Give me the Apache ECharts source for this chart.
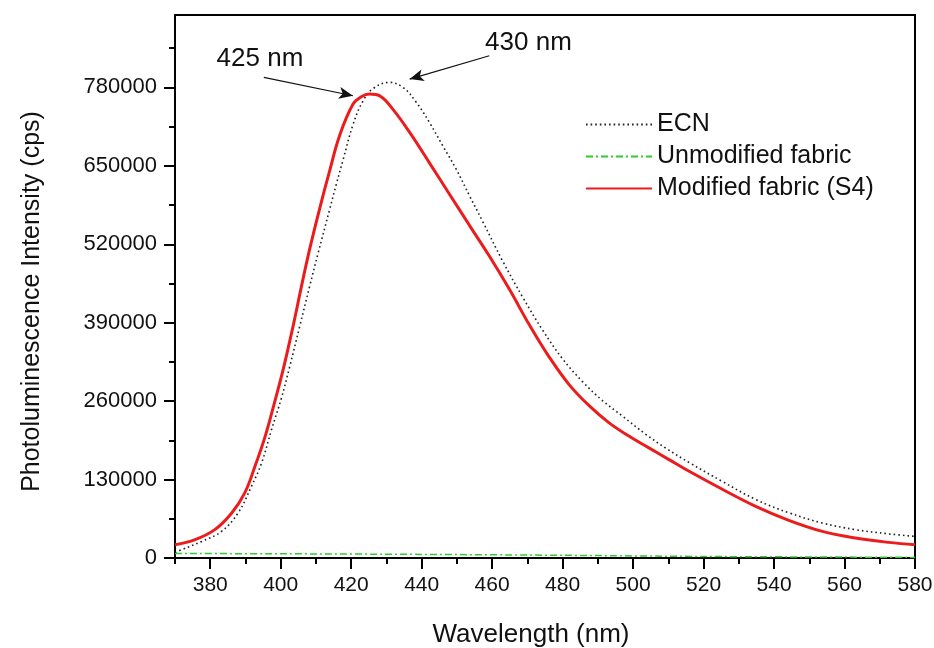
<!DOCTYPE html>
<html>
<head>
<meta charset="utf-8">
<script src="https://cdn.jsdelivr.net/npm/echarts@6/dist/echarts.min.js"></script>
<style>
  html, body { margin: 0; padding: 0; background: #fff; }
  #main { width: 934px; height: 648px; }
</style>
</head>
<body>
<div id="main"></div>
<script>
// wavelength (nm) / intensity (cps)
var ecnWl = [370, 371.9, 377.6, 383.2, 387.9, 391.7, 394.6, 397.4, 400.2, 402.5, 405.4, 408.2, 410.6, 413.9, 415.8, 417.7, 420.5, 423.3, 426.2, 430.9, 434.7, 438.5, 442.2, 446, 449.8, 453.6, 457.3, 463, 468.7, 474.3, 480, 485.7, 491.3, 497, 503.6, 509.3, 516, 525.3, 534.8, 544.2, 553.7, 563.1, 572.5, 580];
var ecnVal = [9000, 13800, 27500, 44100, 74700, 118800, 158000, 212900, 265000, 316000, 384000, 450000, 505000, 578000, 620000, 660000, 718000, 757000, 778000, 788300, 780000, 755100, 721900, 683100, 644400, 600100, 558000, 492000, 432000, 378000, 330000, 292000, 261000, 235000, 205000, 182000, 158000, 127000, 97000, 75000, 58000, 47000, 40000, 35800];

var unmodWl = [370, 400, 440, 480, 520, 560, 580];
var unmodVal = [7500, 7000, 6000, 4500, 2500, 1500, 1000];

var modWl = [370, 375.7, 381.3, 386.1, 389.8, 392.7, 395.5, 397.8, 400.7, 403.5, 405.9, 408.2, 411, 413.9, 416.7, 420.5, 423, 425.2, 428.1, 431.8, 436.6, 442.2, 447.9, 453.6, 459.2, 464.9, 470.6, 476.2, 481.9, 487.6, 493.2, 498.9, 504.5, 510.2, 515.9, 525.3, 534.8, 544.2, 553.7, 563.1, 572.5, 580];
var modVal = [22000, 30400, 47000, 74700, 108000, 152000, 200000, 248000, 312500, 384000, 450700, 511600, 578000, 642000, 700000, 752000, 765000, 769000, 766000, 744000, 705300, 655000, 603000, 551000, 500500, 445300, 386000, 333000, 287000, 252000, 224000, 201800, 182600, 163100, 143700, 114000, 85600, 62400, 44100, 33200, 25900, 22000];

var xMajor = [380, 400, 420, 440, 460, 480, 500, 520, 540, 560, 580];
var yMajor = [0, 130000, 260000, 390000, 520000, 650000, 780000];
var yMinor = [65000, 195000, 325000, 455000, 585000, 715000, 845000];

// peak annotations: text position, arrow tail, arrow tip
var peakText = ['425 nm', '430 nm'];
var peakTextAt = [[394.1, 827000], [470.3, 853700]];
var arrowFrom = [[395.2, 796600], [459.2, 832400]];
var arrowTo = [[420.5, 766100], [436.6, 793800]];

function zip(xs, ys) {
  return xs.map(function (x, i) { return [x, ys[i]]; });
}

var font = 'Arial, "Liberation Sans", sans-serif';

var chart = echarts.init(document.getElementById('main'));

var option = {
  animation: false,
  backgroundColor: '#fff',
  textStyle: { fontFamily: font, color: '#111' },
  grid: {
    left: 175, right: 19, top: 15, bottom: 90,
    outerBoundsMode: 'none',
    show: true, borderColor: '#000', borderWidth: 2
  },
  legend: {
    orient: 'vertical',
    left: 580, top: 107,
    itemWidth: 66, itemHeight: 14, itemGap: 7,
    itemStyle: { opacity: 0 },
    textStyle: { fontSize: 25, color: '#111', fontFamily: font, lineHeight: 25 },
    data: ['ECN', 'Unmodified fabric', 'Modified fabric (S4)']
  },
  xAxis: [{
    type: 'value', min: 370, max: 580, position: 'bottom',
    name: 'Wavelength (nm)', nameLocation: 'middle', nameGap: 64,
    nameTextStyle: { fontSize: 26, color: '#111', padding: [0, 28, 0, 0] },
    axisLine: { lineStyle: { color: '#000', width: 2 } },
    axisTick: { customValues: xMajor, length: 11, inside: false, lineStyle: { color: '#000', width: 2 } },
    axisLabel: { customValues: xMajor, fontSize: 21, color: '#111', margin: 17 },
    splitLine: { show: false }
  }, {
    type: 'value', min: 370, max: 580, interval: 10, position: 'bottom',
    axisLine: { show: false },
    axisTick: { length: 6, lineStyle: { color: '#000', width: 2 } },
    axisLabel: { show: false },
    splitLine: { show: false }
  }],
  yAxis: [{
    type: 'value', min: 0, max: 900000, position: 'left',
    name: 'Photoluminescence Intensity (cps)', nameLocation: 'middle', nameGap: 130,
    nameTextStyle: { fontSize: 25, color: '#111', padding: [0, 30, 0, 0] },
    axisLine: { show: true, lineStyle: { color: '#000', width: 2 } },
    axisTick: { show: true, customValues: yMajor, length: 11, lineStyle: { color: '#000', width: 2 } },
    axisLabel: {
      customValues: yMajor, fontSize: 22, color: '#111', margin: 18,
      formatter: function (v) { return String(v); }
    },
    splitLine: { show: false }
  }, {
    type: 'value', min: 0, max: 900000, position: 'left',
    axisLine: { show: false },
    axisTick: { show: true, customValues: yMinor, length: 6, lineStyle: { color: '#000', width: 2 } },
    axisLabel: { show: false },
    splitLine: { show: false }
  }],
  series: [{
    name: 'ECN', type: 'line', smooth: 0.4, symbol: 'none',
    data: zip(ecnWl, ecnVal),
    lineStyle: { color: '#222', width: 1.6, type: [1.6, 3] },
    itemStyle: { color: '#222' },
    z: 3,
    markLine: {
      silent: true, animation: false,
      symbol: ['none', 'arrow'], symbolSize: [9, 14],
      lineStyle: { color: '#111', width: 1.2, type: 'solid' },
      label: { show: false },
      data: arrowFrom.map(function (p, i) {
        return [{ coord: p }, { coord: arrowTo[i] }];
      })
    },
    markPoint: {
      silent: true, animation: false,
      symbol: 'circle', symbolSize: 0,
      label: { show: true, position: 'inside', formatter: '{b}', fontSize: 26, color: '#111', fontFamily: font },
      data: peakText.map(function (t, i) {
        return { name: t, coord: peakTextAt[i] };
      })
    }
  }, {
    name: 'Unmodified fabric', type: 'line', smooth: 0.3, symbol: 'none',
    data: zip(unmodWl, unmodVal),
    lineStyle: { color: '#2ecc2e', width: 1.5, type: [7, 3, 2, 3] },
    itemStyle: { color: '#2ecc2e' },
    z: 2
  }, {
    name: 'Modified fabric (S4)', type: 'line', smooth: 0.4, symbol: 'none',
    data: zip(modWl, modVal),
    lineStyle: { color: '#ec1c1c', width: 3 },
    itemStyle: { color: '#ec1c1c' },
    z: 4
  }]
};

option && chart.setOption(option);
</script>
</body>
</html>
